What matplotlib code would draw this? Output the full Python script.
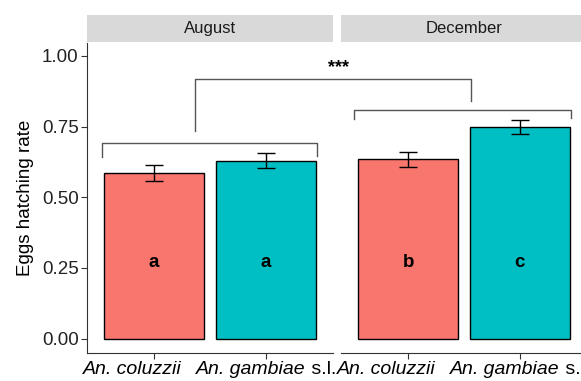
import numpy as np
import matplotlib
matplotlib.use("Agg")
import matplotlib.pyplot as plt
from matplotlib.lines import Line2D
from matplotlib.transforms import blended_transform_factory, offset_copy

plt.rcParams['font.family'] = ['Liberation Sans', 'DejaVu Sans']

# ---------------- data ----------------
months = ["August", "December"]
# each label: list of (text, style) pieces
species = [[("An. coluzzii", "italic"), ("        ", "normal")],
           [("An. gambiae", "italic"), (" s.l.", "normal")]]
rate = {"August": [0.587, 0.629], "December": [0.634, 0.749]}
se = {"August": [0.028, 0.027], "December": [0.027, 0.025]}
letters = {"August": ["a", "a"], "December": ["b", "c"]}
colors = ["#F8766D", "#00BFC4"]
yticks = [0.00, 0.25, 0.50, 0.75, 1.00]

# brackets: (x0, x1, y_top, leg0, leg1) in each panel's data units
inner = {"August": (0.53, 2.46, 0.693, 0.643, 0.646),
         "December": (0.52, 2.46, 0.809, 0.777, 0.779)}
outer = (1.37, 1.56, 0.918, 0.734, 0.841)

W, H = 581, 381
fig = plt.figure(figsize=(W / 100, H / 100), dpi=100)
renderer = fig.canvas.get_renderer()

def px_axes(x0, y0, x1, y1):
    return fig.add_axes([x0 / W, 1 - y1 / H, (x1 - x0) / W, (y1 - y0) / H])

def species_label(ax, x, pieces, size=14):
    # mixed italic/upright label centred under x
    trans = blended_transform_factory(ax.transData, ax.transAxes)
    texts = []
    widths = []
    for txt, style in pieces:
        t = ax.text(x, 0, txt, transform=trans, fontsize=size, style=style,
                    ha="left", va="top", color="black", clip_on=False)
        texts.append(t)
        widths.append(t.get_window_extent(renderer).width)
    off = -sum(widths) / 2
    for t, w in zip(texts, widths):
        t.set_transform(offset_copy(trans, fig=fig, x=off * 72 / fig.dpi,
                                    y=-8.5 * 72 / fig.dpi, units="points"))
        off += w

panel_x = [(87, 333), (341, 587)]
axes = []
for i, m in enumerate(months):
    x0, x1 = panel_x[i]
    ax = px_axes(x0, 42.7, x1, 352.7)
    axes.append(ax)
    pos = np.arange(1, 3)
    ax.bar(pos, rate[m], width=0.9, color=colors, edgecolor="black", linewidth=1, zorder=2)
    ax.errorbar(pos, rate[m], yerr=se[m], fmt="none", ecolor="black",
                elinewidth=1, capsize=6.5, capthick=1, zorder=3)
    for p, lab in zip(pos, letters[m]):
        ax.text(p, 0.27, lab, ha="center", va="center", fontsize=13.5,
                fontweight="bold", color="black")
    ax.set_xlim(0.4, 2.6)
    ax.set_ylim(-0.05, 1.047)
    ax.set_xticks(pos)
    ax.set_xticklabels([])
    for p, pieces in zip(pos, species):
        species_label(ax, p, pieces)
    for s in ["top", "right"]:
        ax.spines[s].set_visible(False)
    ax.spines["bottom"].set_color("#333333")
    ax.tick_params(axis="x", length=4, color="#333333")
    if i == 0:
        ax.set_yticks(yticks)
        ax.set_yticklabels([f"{v:.2f}" for v in yticks], fontsize=13.5, color="#222222")
        ax.tick_params(axis="y", length=4, color="#333333", pad=2)
        ax.spines["left"].set_color("#333333")
        ax.set_ylabel("Eggs hatching rate", fontsize=13.5, labelpad=6)
    else:
        ax.spines["left"].set_visible(False)
        ax.set_yticks([])
    ax.patch.set_alpha(0)

    # facet strip
    sa = px_axes(x0, 15, x1, 42.3)
    sa.set_facecolor("#D9D9D9")
    for s in sa.spines.values():
        s.set_visible(False)
    sa.set_xticks([])
    sa.set_yticks([])
    sa.text(0.5, 0.5, m, transform=sa.transAxes, ha="center", va="center",
            fontsize=12, color="#1a1a1a")

    # bracket within the month
    bx0, bx1, by, l0, l1 = inner[m]
    ax.plot([bx0, bx0, bx1, bx1], [l0, by, by, l1], color="#555555", lw=1, clip_on=False)

# bracket across months
def to_fig(ax, x, y):
    return fig.transFigure.inverted().transform(ax.transData.transform((x, y)))

ox0, ox1, oy, ol0, ol1 = outer
pts = np.array([to_fig(axes[0], ox0, ol0), to_fig(axes[0], ox0, oy),
                to_fig(axes[1], ox1, oy), to_fig(axes[1], ox1, ol1)])
fig.add_artist(Line2D(pts[:, 0], pts[:, 1], color="#555555", lw=1, transform=fig.transFigure))
mid = pts[1:3].mean(axis=0)
fig.text(mid[0] + 5 / W, mid[1] + 3 / H, "***", ha="center", va="bottom", fontsize=13,
         fontweight="bold", color="black")

fig.savefig("out.png", dpi=100)
